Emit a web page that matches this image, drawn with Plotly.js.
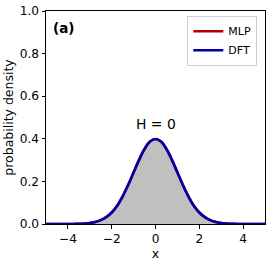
<!DOCTYPE html>
<html><head><meta charset="utf-8">
<script src="https://cdn.plot.ly/plotly-3.0.1.min.js"></script>
<style>html,body{margin:0;padding:0;background:#fff}#plot{width:274px;height:263px}</style>
</head><body><div id="plot"></div>
<script>
const xValues = [-5,-4.75,-4.5,-4.25,-4,-3.75,-3.5,-3.25,-3,-2.75,-2.5,-2.25,-2,-1.75,-1.5,-1.25,-1,-0.75,-0.5,-0.25,0,0.25,0.5,0.75,1,1.25,1.5,1.75,2,2.25,2.5,2.75,3,3.25,3.5,3.75,4,4.25,4.5,4.75,5];
const dftDensity = [0,0,0,0,0,0,0.001,0.002,0.004,0.009,0.018,0.032,0.054,0.086,0.130,0.183,0.242,0.301,0.352,0.387,0.399,0.387,0.352,0.301,0.242,0.183,0.130,0.086,0.054,0.032,0.018,0.009,0.004,0.002,0.001,0,0,0,0,0,0];
const mlpDensity = [0,0,0,0,0,0,0.001,0.002,0.004,0.009,0.018,0.032,0.054,0.086,0.130,0.183,0.242,0.301,0.352,0.387,0.399,0.387,0.352,0.301,0.242,0.183,0.130,0.086,0.054,0.032,0.018,0.009,0.004,0.002,0.001,0,0,0,0,0,0];
const xTicks = [-4,-2,0,2,4];
const yTicks = [0,0.2,0.4,0.6,0.8,1.0];

const fam = 'DejaVu Sans, sans-serif';
const tickFont = {family:fam, size:12.2, color:'#000'};
const titleFont = {family:fam, size:12.5, color:'#000'};
const traces = [
  {x:xValues, y:dftDensity, type:'scatter', mode:'lines', fill:'tozeroy', fillcolor:'#c0c0c0', line:{width:0, shape:'spline'}, showlegend:false, hoverinfo:'skip'},
  {x:xValues, y:mlpDensity, type:'scatter', mode:'lines', name:'MLP', line:{color:'#b00000', width:2.6, shape:'spline'}},
  {x:xValues, y:dftDensity, type:'scatter', mode:'lines', name:'DFT', line:{color:'#0000a8', width:2.6, shape:'spline'}}
];
const axisCommon = {showline:true, mirror:true, linecolor:'#000', linewidth:1, ticks:'outside', ticklen:3.5, tickcolor:'#000', showgrid:false, zeroline:false, tickfont:tickFont};
const layout = {
  width:274, height:263,
  margin:{l:46, r:9, t:11, b:39},
  paper_bgcolor:'#fff', plot_bgcolor:'#fff',
  font:tickFont,
  xaxis:Object.assign({}, axisCommon, {range:[-5,5], tickvals:xTicks, ticktext:xTicks.map(v=>v<0?'\u2212'+Math.abs(v):String(v)), title:{text:'x', font:titleFont, standoff:1}}),
  yaxis:Object.assign({}, axisCommon, {range:[0,1], tickvals:yTicks, ticktext:yTicks.map(v=>v.toFixed(1)), title:{text:'probability density', font:titleFont, standoff:3}}),
  legend:{x:0.965, y:0.978, xanchor:'right', yanchor:'top', bgcolor:'rgba(255,255,255,0.8)', bordercolor:'#d0d0d0', borderwidth:1, font:{family:fam, size:11, color:'#000'}, tracegroupgap:0, itemwidth:30},
  annotations:[
    {x:-4.78, y:0.92, xref:'x', yref:'y', text:'<b>(a)</b>', showarrow:false, xanchor:'left', font:{family:fam, size:13.5, color:'#000'}},
    {x:0, y:0.47, xref:'x', yref:'y', text:'H = 0', showarrow:false, xanchor:'center', font:{family:fam, size:13.9, color:'#000'}}
  ],
  showlegend:true
};
Plotly.newPlot('plot', traces, layout, {staticPlot:true, displayModeBar:false});
</script></body></html>
